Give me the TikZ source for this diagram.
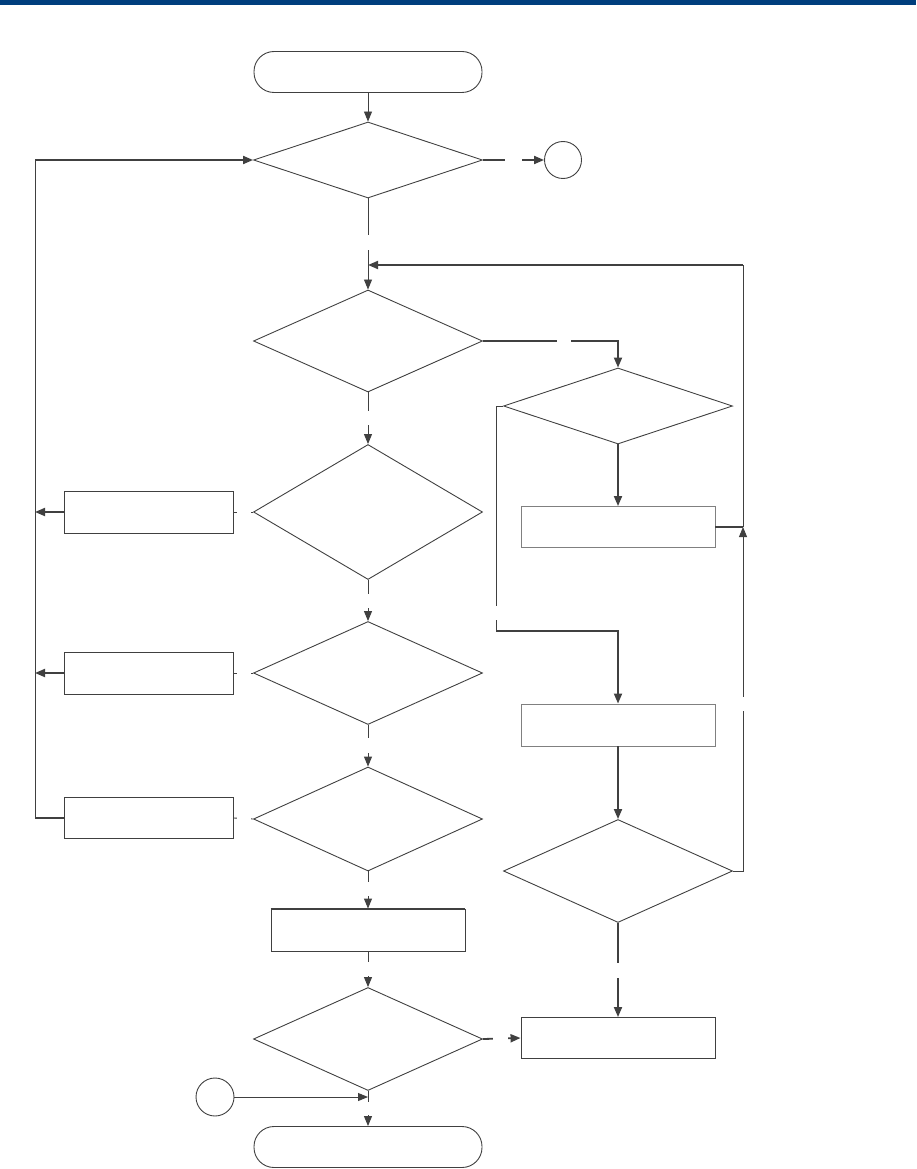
\documentclass[tikz,border=0pt]{standalone}
\usetikzlibrary{shapes.geometric, arrows.meta}

\definecolor{barblue}{RGB}{0,62,125}
\definecolor{ink}{RGB}{64,64,64}
\definecolor{pale}{RGB}{128,128,128}

\tikzset{
	link/.style={draw=ink, line width=0.9pt},
	heavy/.style={draw=ink, line width=1.8pt},
	arr/.style={link, -{Triangle[length=10pt, width=8pt]}},
	harr/.style={heavy, -{Triangle[length=10pt, width=8pt]}},
	hole/.style={fill=white, inner sep=0pt, minimum size=#1},
	terminal/.style={draw=ink, line width=0.9pt, rectangle, rounded corners=20pt,
	                 minimum width=228pt, minimum height=41pt, inner sep=0pt},
	choice/.style={draw=ink, line width=0.9pt, diamond, inner sep=0pt, minimum width=229pt},
	stepbox/.style={draw=ink, line width=0.9pt, rectangle, inner sep=0pt,
	                minimum width=#1, minimum height=42pt},
	stepbox/.default=169pt,
	joint/.style={draw=ink, line width=0.9pt, circle, inner sep=0pt, minimum size=37pt},
}

\begin{document}
\begin{tikzpicture}[x=1pt, y=-1pt]
	\useasboundingbox (0,0) rectangle (916,1169);
	\fill [barblue] (0,0) rectangle (916,5);

	% Nodes
	\node (start) [terminal] at (368,72) {};
	\node (d1) [choice, minimum height=76pt]  at (368,160) {};
	\node (jA) [joint] at (563,160) {};
	\node (d2) [choice, minimum height=102pt] at (368,341) {};
	\node (d3) [choice, minimum height=76pt]  at (618,406) {};
	\node (r1) [stepbox=194pt, draw=pale, minimum height=41pt] at (618,527) {};
	\node (d4) [choice, minimum height=135pt] at (368,512) {};
	\node (l1) [stepbox] at (149,512) {};
	\node (d5) [choice, minimum height=103pt] at (368,673) {};
	\node (l2) [stepbox] at (149,673) {};
	\node (d6) [choice, minimum height=104pt] at (368,819) {};
	\node (l3) [stepbox, minimum height=41pt] at (149,818) {};
	\node (r2) [stepbox=194pt, draw=pale] at (618,725) {};
	\node (d7) [choice, minimum height=103pt] at (618,871) {};
	\node (r4) [stepbox=194pt] at (368,930) {};
	\node (d8) [choice, minimum height=103pt] at (368,1039) {};
	\node (r3) [stepbox=194pt, minimum height=41pt] at (618,1038) {};
	\node (jB) [joint, minimum size=38pt] at (215,1097) {};
	\node (stop) [terminal] at (368,1147) {};
	\draw [heavy] (r4.north west) -- (r4.north east);

	% Points
	\coordinate (railtop) at (35,160);
	\coordinate (railbot) at (35,818);
	\coordinate (loop)    at (743,527);
	\coordinate (merge)   at (368,265);
	\coordinate (bend)    at (496,631);
	\coordinate (meet)    at (368,1097);

	% Main column
	\draw [arr]  (start) -- (d1);
	\draw [arr]  (d1) -- node [hole=15pt, pos=0.48] {} (d2);
	\draw [arr]  (d2) -- node [hole=14pt] {} (d4);
	\draw [arr]  (d4) -- node [hole=14pt] {} (d5);
	\draw [arr]  (d5) -- node [hole=15pt] {} (d6);
	\draw [arr]  (d6) -- node [hole=14pt, pos=0.47] {} (r4);
	\draw [arr]  (r4) -- node [hole=14pt] {} (d8);
	\draw [link] (d8.south) -- (meet);
	\draw [arr]  (meet) -- node [hole=13pt, pos=0.4] {} (stop);
	\draw [harr] (d1.east) -- node [hole=17pt] {} (jA);
	\draw [harr] (d8.east) -- node [hole=15pt, pos=0.47] {} (r3.west);
	\draw [arr]  (jB) -- (meet);

	% Left rail
	\draw [link] (d4.west) -- node [hole=14pt] {} (l1.east);
	\draw [link] (d5.west) -- node [hole=14pt] {} (l2.east);
	\draw [link] (d6.west) -- node [hole=14pt] {} (l3.east);
	\draw [harr] (l1.west) -- (l1.west -| railtop);
	\draw [harr] (l2.west) -- (l2.west -| railtop);
	\draw [heavy] (l3.west) -- (railbot);
	\draw [link] (railbot) -- (railtop);
	\draw [harr] (railtop) -- (d1.west);

	% Right branch
	\draw [harr] (d2.east) -| node [hole=14pt, pos=0.3] {} (d3.north);
	\draw [harr] (d3) -- (r1);
	\draw [link] (d3.west) -| node [hole=14pt, pos=0.96] {} (bend);
	\draw [harr] (bend) -| (r2.north);
	\draw [harr] (r2) -- (d7);
	\draw [harr] (d7) -- node [hole=15pt] {} (r3);

	% Loop back
	\draw [heavy] (r1.east) -- (loop);
	\draw [arr]  (d7.east) -| node [hole=14pt, pos=0.743] {} (loop);
	\draw [link] (loop) -- (loop |- merge);
	\draw [harr] (loop |- merge) -- (merge);
\end{tikzpicture}
\end{document}
